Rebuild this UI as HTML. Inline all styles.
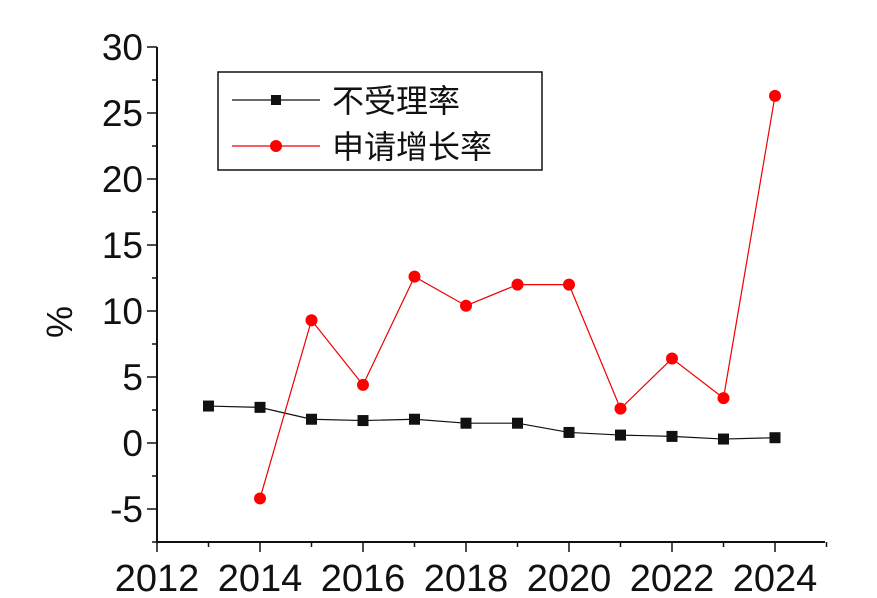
<!DOCTYPE html>
<html><head><meta charset="utf-8"><style>
html,body{margin:0;padding:0;background:#fff;}
svg text{font-family:"Liberation Sans","Noto Sans CJK SC",sans-serif;fill:#111;}
</style></head><body>
<svg id="chart" width="877" height="593">
<g id="axes"></g><g id="series"></g>
<g>
<rect x="218" y="72" width="324" height="98" fill="#fff" stroke="#111" stroke-width="1.5"/>
<g>
<line x1="232" y1="100" x2="320" y2="100" stroke="#111" stroke-width="1.2"/>
<rect x="271" y="95" width="10" height="10" fill="#111"/>
<text x="332" y="112" font-size="32">不受理率</text></g>
<g>
<line x1="232" y1="146" x2="320" y2="146" stroke="#e00" stroke-width="1.2"/>
<circle cx="276" cy="146" r="6" fill="#f00"/>
<text x="332" y="158" font-size="32">申请增长率</text></g>
</g>
<text transform="translate(72,322) rotate(-90)" text-anchor="middle" font-size="36">%</text>
</svg>
<script>
const years=[2013,2014,2015,2016,2017,2018,2019,2020,2021,2022,2023,2024];
const rejectRate=[2.8,2.7,1.8,1.7,1.8,1.5,1.5,0.8,0.6,0.5,0.3,0.4];
const growthYears=[2014,2015,2016,2017,2018,2019,2020,2021,2022,2023,2024];
const growthRate=[-4.2,9.3,4.4,12.6,10.4,12.0,12.0,2.6,6.4,3.4,26.3];
const yTicks=[-5,0,5,10,15,20,25,30];
const xTicks=[2012,2014,2016,2018,2020,2022,2024];
const NS="http://www.w3.org/2000/svg";
const x=v=>157+(v-2012)*51.5;
const y=v=>443-v*13.2;
const X0=157,Y0=542,XR=825,YT=47;
function mk(t,a,p){const e=document.createElementNS(NS,t);for(const k in a)e.setAttribute(k,a[k]);p.appendChild(e);return e;}
const ax=document.getElementById('axes');
const yl=mk('line',{x1:X0,y1:Y0,x2:X0,y2:YT,stroke:'#111','stroke-width':2},ax);


const xl=mk('line',{x1:X0,y1:Y0,x2:XR,y2:Y0,stroke:'#111','stroke-width':2},ax);


for(const t of yTicks){
 mk('line',{x1:X0-10,y1:y(t),x2:X0,y2:y(t),stroke:'#111','stroke-width':1.5},ax);
 mk('line',{x1:X0-5,y1:y(t-2.5),x2:X0,y2:y(t-2.5),stroke:'#111','stroke-width':1.5},ax);
 const tx=mk('text',{x:X0-14,y:y(t)+13,'text-anchor':'end','font-size':37},ax);tx.textContent=t;
 
 
}
for(const t of xTicks){
 mk('line',{x1:x(t),y1:Y0,x2:x(t),y2:Y0+10,stroke:'#111','stroke-width':1.5},ax);
 mk('line',{x1:x(t+1),y1:Y0,x2:x(t+1),y2:Y0+5,stroke:'#111','stroke-width':1.5},ax);
 const tx=mk('text',{x:x(t),y:Y0+49,'text-anchor':'middle','font-size':38},ax);tx.textContent=t;
 
 
}
const s=document.getElementById('series');
const rl=mk('polyline',{points:years.map((v,i)=>x(v)+','+y(rejectRate[i])).join(' '),fill:'none',stroke:'#111','stroke-width':1.2},s);


const gl=mk('polyline',{points:growthYears.map((v,i)=>x(v)+','+y(growthRate[i])).join(' '),fill:'none',stroke:'#e00','stroke-width':1.2},s);


years.forEach((v,i)=>{const r=mk('rect',{x:x(v)-5.5,y:y(rejectRate[i])-5.5,width:11,height:11,fill:'#111'},s);
 
 });
growthYears.forEach((v,i)=>{const c=mk('circle',{cx:x(v),cy:y(growthRate[i]),r:6,fill:'#f00'},s);
 
 });
</script>
</body></html>
